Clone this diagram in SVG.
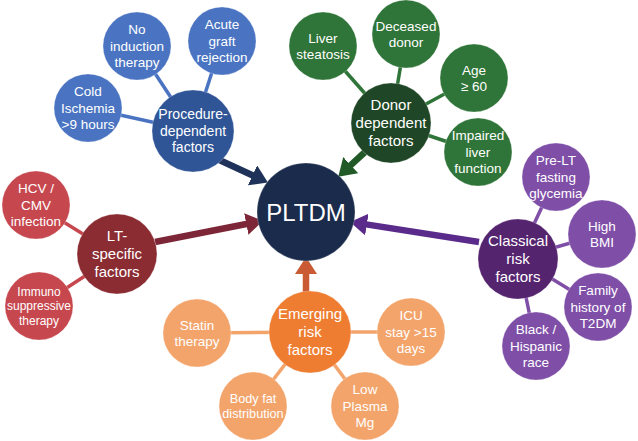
<svg xmlns="http://www.w3.org/2000/svg" width="638" height="441" viewBox="0 0 638 441">
<style>
text{font-family:"Liberation Sans",Arial,sans-serif;fill:#fff;text-anchor:middle}
.s{font-size:13.5px}
.h{font-size:15px}
.c{stroke:#fff;stroke-opacity:0.25;stroke-width:1}
.bl{fill:#4a74c2}.bh{fill:#2f5597}
.gl{fill:#2f7438}.gh{fill:#1f4626}
.rl{fill:#c6474e}.rh{fill:#8b2c33}
.ol{fill:#f3a46b}.oh{fill:#ee7d32}
.pl{fill:#7f4fa8}.ph{fill:#55246f}
.ln{stroke-width:3.5;fill:none}
.ar{stroke-width:6.5;fill:none}
</style>
<defs>
<marker id="mB" markerUnits="userSpaceOnUse" markerWidth="17" markerHeight="22" refX="4" refY="11" orient="auto"><path d="M0,0 L17,11 L0,22 z" fill="#1f3259"/></marker>
<marker id="mG" markerUnits="userSpaceOnUse" markerWidth="17" markerHeight="22" refX="4" refY="11" orient="auto"><path d="M0,0 L17,11 L0,22 z" fill="#215a26"/></marker>
<marker id="mR" markerUnits="userSpaceOnUse" markerWidth="17" markerHeight="22" refX="4" refY="11" orient="auto"><path d="M0,0 L17,11 L0,22 z" fill="#7d2638"/></marker>
<marker id="mP" markerUnits="userSpaceOnUse" markerWidth="17" markerHeight="22" refX="4" refY="11" orient="auto"><path d="M0,0 L17,11 L0,22 z" fill="#5b2b8c"/></marker>
<marker id="mO" markerUnits="userSpaceOnUse" markerWidth="17" markerHeight="22" refX="4" refY="11" orient="auto"><path d="M0,0 L17,11 L0,22 z" fill="#c95a33"/></marker>
</defs>
<g id="connectors">
<g stroke="#4a74c2" class="ln">
<line x1="193" y1="131" x2="88" y2="108"/><line x1="193" y1="131" x2="137" y2="46"/><line x1="193" y1="131" x2="222" y2="41"/>
</g>
<g stroke="#2f7438" class="ln">
<line x1="391" y1="123" x2="323" y2="46"/><line x1="391" y1="123" x2="406" y2="34"/><line x1="391" y1="123" x2="474" y2="78"/><line x1="391" y1="123" x2="478" y2="152"/>
</g>
<g stroke="#c6474e" class="ln">
<line x1="117" y1="255" x2="36" y2="205"/><line x1="117" y1="255" x2="39" y2="306"/>
</g>
<g stroke="#f3a46b" class="ln">
<line x1="310" y1="332" x2="197" y2="333"/><line x1="310" y1="332" x2="253" y2="406"/><line x1="310" y1="332" x2="411" y2="332"/><line x1="310" y1="332" x2="365" y2="406"/>
</g>
<g stroke="#7f4fa8" class="ln">
<line x1="518" y1="258" x2="556" y2="177"/><line x1="518" y1="258" x2="602" y2="234"/><line x1="518" y1="258" x2="598" y2="307"/><line x1="518" y1="258" x2="536" y2="346"/>
</g>
</g>
<g id="sat-procedure">
<g id="n-cold"><circle class="c bl" cx="88" cy="108" r="34"/><text class="s"><tspan x="88" y="96.2">Cold</tspan><tspan x="88" y="112.7">Ischemia</tspan><tspan x="88" y="129.2">&gt;9 hours</tspan></text></g>
<g id="n-noind"><circle class="c bl" cx="137" cy="46" r="34"/><text class="s"><tspan x="137" y="34.2">No</tspan><tspan x="137" y="50.7">induction</tspan><tspan x="137" y="67.2">therapy</tspan></text></g>
<g id="n-acute"><circle class="c bl" cx="222" cy="41" r="34"/><text class="s"><tspan x="222" y="29.2">Acute</tspan><tspan x="222" y="45.7">graft</tspan><tspan x="222" y="62.2">rejection</tspan></text></g>
</g>
<g id="sat-donor">
<g id="n-steat"><circle class="c gl" cx="323" cy="46" r="34"/><text class="s"><tspan x="323" y="42.5">Liver</tspan><tspan x="323" y="59">steatosis</tspan></text></g>
<g id="n-deceased"><circle class="c gl" cx="406" cy="34" r="34"/><text class="s"><tspan x="406" y="30.5">Deceased</tspan><tspan x="406" y="47">donor</tspan></text></g>
<g id="n-age"><circle class="c gl" cx="474" cy="78" r="34"/><text class="s"><tspan x="474" y="74.5">Age</tspan><tspan x="474" y="91">≥ 60</tspan></text></g>
<g id="n-impaired"><circle class="c gl" cx="478" cy="152" r="34"/><text class="s"><tspan x="478" y="140.2">Impaired</tspan><tspan x="478" y="156.7">liver</tspan><tspan x="478" y="173.2">function</tspan></text></g>
</g>
<g id="sat-lt">
<g id="n-hcv"><circle class="c rl" cx="36" cy="205" r="34"/><text class="s"><tspan x="36" y="193.2">HCV /</tspan><tspan x="36" y="209.7">CMV</tspan><tspan x="36" y="226.2">infection</tspan></text></g>
<g id="n-immuno"><circle class="c rl" cx="39" cy="306" r="34"/><text style="font-size:12px"><tspan x="39" y="296">Immuno</tspan><tspan x="39" y="310.3">suppressive</tspan><tspan x="39" y="324.6">therapy</tspan></text></g>
</g>
<g id="sat-emerging">
<g id="n-statin"><circle class="c ol" cx="197" cy="333" r="34"/><text class="s"><tspan x="197" y="329.5">Statin</tspan><tspan x="197" y="346">therapy</tspan></text></g>
<g id="n-bodyfat"><circle class="c ol" cx="253" cy="406" r="34"/><text style="font-size:12.7px"><tspan x="253" y="402.8">Body fat</tspan><tspan x="253" y="418">distribution</tspan></text></g>
<g id="n-icu"><circle class="c ol" cx="411" cy="332" r="34"/><text class="s"><tspan x="411" y="320.2">ICU</tspan><tspan x="411" y="336.7">stay &gt;15</tspan><tspan x="411" y="353.2">days</tspan></text></g>
<g id="n-mg"><circle class="c ol" cx="365" cy="406" r="34"/><text class="s"><tspan x="365" y="394.2">Low</tspan><tspan x="365" y="410.7">Plasma</tspan><tspan x="365" y="427.2">Mg</tspan></text></g>
</g>
<g id="sat-classical">
<g id="n-prelt"><circle class="c pl" cx="556" cy="177" r="34"/><text class="s"><tspan x="556" y="165.2">Pre-LT</tspan><tspan x="556" y="181.7">fasting</tspan><tspan x="556" y="198.2">glycemia</tspan></text></g>
<g id="n-bmi"><circle class="c pl" cx="602" cy="234" r="34"/><text class="s"><tspan x="602" y="230.5">High</tspan><tspan x="602" y="247">BMI</tspan></text></g>
<g id="n-family"><circle class="c pl" cx="598" cy="307" r="34"/><text class="s"><tspan x="598" y="295.2">Family</tspan><tspan x="598" y="311.7">history of</tspan><tspan x="598" y="328.2">T2DM</tspan></text></g>
<g id="n-black"><circle class="c pl" cx="536" cy="346" r="34"/><text class="s"><tspan x="536" y="334.2">Black /</tspan><tspan x="536" y="350.7">Hispanic</tspan><tspan x="536" y="367.2">race</tspan></text></g>
</g>
<g id="arrows">
<line class="ar" stroke="#1f3259" x1="215" y1="158" x2="256.1" y2="177" marker-end="url(#mB)"/>
<line class="ar" stroke="#215a26" x1="365" y1="152" x2="347.8" y2="167.9" marker-end="url(#mG)"/>
<line class="ar" stroke="#7d2638" x1="155" y1="242" x2="250.2" y2="223.3" marker-end="url(#mR)"/>
<line class="ar" stroke="#5b2b8c" x1="479" y1="242" x2="362.9" y2="223.9" marker-end="url(#mP)"/>
<line class="ar" stroke="#c95a33" x1="306" y1="294" x2="306" y2="270" marker-end="url(#mO)"/>
</g>
<g id="n-pltdm"><circle class="c" fill="#1b2b4b" cx="306" cy="212" r="49"/><text style="font-size:24px" x="306" y="220.5">PLTDM</text></g>
<g id="n-procedure"><circle class="c bh" cx="193" cy="131" r="41"/><text style="font-size:14px"><tspan x="193" y="119.4">Procedure-</tspan><tspan x="193" y="135.9">dependent</tspan><tspan x="193" y="152.4">factors</tspan></text></g>
<g id="n-donor"><circle class="c gh" cx="391" cy="123" r="40"/><text class="h"><tspan x="391" y="110.2">Donor</tspan><tspan x="391" y="128.2">dependent</tspan><tspan x="391" y="146.2">factors</tspan></text></g>
<g id="n-ltspec"><circle class="c rh" cx="117" cy="254" r="40"/><text class="h"><tspan x="117" y="241.2">LT-</tspan><tspan x="117" y="259.2">specific</tspan><tspan x="117" y="277.2">factors</tspan></text></g>
<g id="n-emerging"><circle class="c oh" cx="310" cy="332" r="41"/><text class="h"><tspan x="310" y="319.2">Emerging</tspan><tspan x="310" y="337.2">risk</tspan><tspan x="310" y="355.2">factors</tspan></text></g>
<g id="n-classical"><circle class="c ph" cx="518" cy="259" r="40"/><text class="h"><tspan x="518" y="246.2">Classical</tspan><tspan x="518" y="264.2">risk</tspan><tspan x="518" y="282.2">factors</tspan></text></g>
</svg>
